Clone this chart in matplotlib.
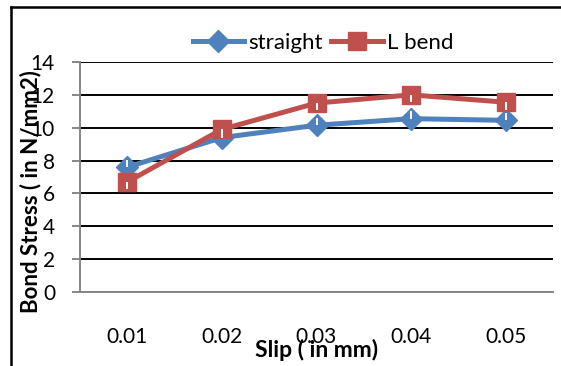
import matplotlib
matplotlib.use("Agg")
import matplotlib.pyplot as plt
from matplotlib.lines import Line2D
import numpy as np

categories = ["0.01", "0.02", "0.03", "0.04", "0.05"]
straight = [7.6, 9.4, 10.15, 10.55, 10.45]
l_bend = [6.7, 9.9, 11.5, 12.0, 11.55]
yticks = [0, 2, 4, 6, 8, 10, 12, 14]

plt.rcParams['font.family'] = ['Lato', 'DejaVu Sans']

W, H = 561, 366
fig = plt.figure(figsize=(W/100, H/100), dpi=100)
L, R, T, B = 80, 553, 62, 292
ax = fig.add_axes([L/W, 1-B/H, (R-L)/W, (B-T)/H])

x = np.arange(len(categories))
blue = "#4F81BD"
red = "#C0504D"
ax.plot(x, straight, color=blue, lw=3.6, marker="D", ms=11, label="straight", zorder=3)
ax.plot(x, l_bend, color=red, lw=3.6, marker="s", ms=13, label="L bend", zorder=4)
# white tick artifacts inside markers
ax.errorbar(x, straight, yerr=[[0]*5, [0.45]*5], fmt="none", ecolor="white", elinewidth=1.4, zorder=5)
ax.errorbar(x, l_bend, yerr=[[0.45]*5, [0]*5], fmt="none", ecolor="white", elinewidth=1.4, zorder=5)

ax.set_xlim(-0.5, len(categories)-0.5)
ax.set_ylim(0, 14)
ax.set_yticks(yticks)
ax.set_xticks(x)
ax.set_xticklabels(categories)
ax.yaxis.grid(True, color="black", lw=1.4)
ax.set_axisbelow(True)
for s in ["top", "right"]:
    ax.spines[s].set_visible(False)
for s in ["left", "bottom"]:
    ax.spines[s].set_color("#868686")
    ax.spines[s].set_linewidth(1.4)
ax.tick_params(axis="y", length=6, width=1.4, color="#868686", labelsize=15, pad=12)
ax.tick_params(axis="x", length=0, labelsize=15, pad=25)

ax.set_xlabel("Slip ( in mm)", fontsize=16.5, fontweight="bold", va="center")
ax.xaxis.set_label_coords((317-L)/(R-L), (B-350)/(B-T))
ax.set_ylabel("Bond Stress ( in N/mm2)", fontsize=16, fontweight="bold", va="center")
ax.yaxis.set_label_coords((31-L)/(R-L), (B-192)/(B-T))

ax.legend(loc="center", bbox_to_anchor=((323-L)/(R-L), (B-43)/(B-T)), ncol=2, frameon=False,
          fontsize=16, handlelength=2.3, columnspacing=0.4, handletextpad=0.2, borderaxespad=0,
          borderpad=0)

# outer frame (left and top)
fig.add_artist(Line2D([11/W, 11/W], [0, 1-7/H], color="black", lw=1.8, transform=fig.transFigure))
fig.add_artist(Line2D([11/W, 1], [1-7/H, 1-7/H], color="black", lw=1.8, transform=fig.transFigure))

fig.savefig("out.png", dpi=100)
